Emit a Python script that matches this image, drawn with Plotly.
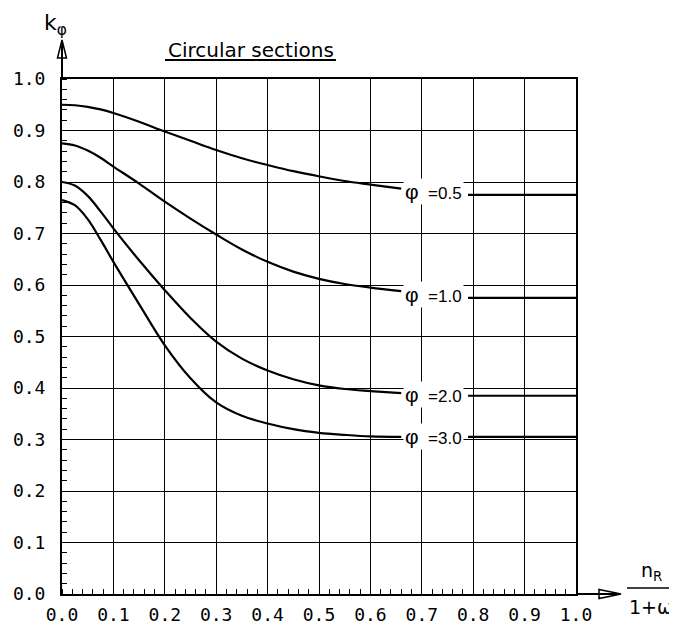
import plotly.graph_objects as go

# ---------------- data ----------------
tick_vals = [0.0, 0.1, 0.2, 0.3, 0.4, 0.5, 0.6, 0.7, 0.8, 0.9, 1.0]
tick_text = ["0.0", "0.1", "0.2", "0.3", "0.4", "0.5", "0.6", "0.7", "0.8", "0.9", "1.0"]

phi_names = ["0.5", "1.0", "2.0", "3.0"]

curve_x = [0.0, 0.025, 0.05, 0.075, 0.1, 0.15, 0.2, 0.25, 0.3, 0.35, 0.4, 0.45, 0.5, 0.55, 0.6, 0.66]
k_phi_05 = [0.950, 0.949, 0.946, 0.941, 0.934, 0.917, 0.898, 0.880, 0.862, 0.846, 0.833, 0.821, 0.811, 0.802, 0.795, 0.787]
k_phi_10 = [0.875, 0.871, 0.861, 0.847, 0.830, 0.797, 0.762, 0.729, 0.698, 0.669, 0.645, 0.626, 0.612, 0.602, 0.595, 0.588]
k_phi_20 = [0.800, 0.793, 0.773, 0.743, 0.710, 0.648, 0.590, 0.536, 0.490, 0.457, 0.434, 0.417, 0.405, 0.398, 0.394, 0.390]
k_phi_30 = [0.765, 0.755, 0.728, 0.688, 0.645, 0.563, 0.483, 0.419, 0.372, 0.346, 0.331, 0.320, 0.313, 0.309, 0.306, 0.305]

tail_x = [0.79, 1.0]
tail_05 = [0.775, 0.775]
tail_10 = [0.575, 0.575]
tail_20 = [0.385, 0.385]
tail_30 = [0.305, 0.305]

curves = [k_phi_05, k_phi_10, k_phi_20, k_phi_30]
tails = [tail_05, tail_10, tail_20, tail_30]

# ---------------- figure ----------------
# page-pixel frame of the plot area (the page body adds an 8 px offset)
OFF = 8
L, R, T, B = 62, 576, 79, 594
W, H = 677 - OFF, 628 - OFF


def px(x):
    return (x - L) / (R - L)


def py(y):
    return (B - y) / (B - T)


fig = go.Figure()
for ys, tl in zip(curves, tails):
    fig.add_trace(go.Scatter(x=curve_x, y=ys, mode="lines",
                             line=dict(color="black", width=2.2, shape="spline", smoothing=1.0),
                             showlegend=False, hoverinfo="skip"))
    fig.add_trace(go.Scatter(x=tail_x, y=tl, mode="lines",
                             line=dict(color="black", width=2.2),
                             showlegend=False, hoverinfo="skip"))

tick_font = dict(family="DejaVu Sans Mono", size=18, color="black")
axis_common = dict(range=[0, 1], tickvals=tick_vals, ticktext=tick_text, automargin=False,
                   showgrid=True, gridcolor="black", gridwidth=1.4,
                   zeroline=False, showline=True, linecolor="black", linewidth=2,
                   mirror=True, ticks="", tickfont=tick_font,
                   minor=dict(tickvals=[i / 50 for i in range(51)], ticks="inside", ticklen=5,
                              tickwidth=1.3, tickcolor="black", showgrid=False))

fig.update_xaxes(**axis_common, ticklabelstandoff=3)
fig.update_yaxes(**axis_common, ticklabelstandoff=11)

shapes = []
# y-axis arrow
shapes.append(dict(type="path", xref="paper", yref="paper",
                   path=f"M {px(62)},{py(40)} L {px(57.5)},{py(58)} L {px(66.5)},{py(58)} Z",
                   fillcolor="white", line=dict(color="black", width=1.5)))
shapes.append(dict(type="line", xref="paper", yref="paper",
                   x0=px(62), y0=py(79), x1=px(62), y1=py(42),
                   line=dict(color="black", width=2)))
# x-axis arrow
shapes.append(dict(type="path", xref="paper", yref="paper",
                   path=f"M {px(621)},{py(594)} L {px(599)},{py(589.5)} L {px(599)},{py(598.5)} Z",
                   fillcolor="white", line=dict(color="black", width=1.5)))
shapes.append(dict(type="line", xref="paper", yref="paper",
                   x0=px(576), y0=py(594), x1=px(619), y1=py(594),
                   line=dict(color="black", width=2)))
# title underline
shapes.append(dict(type="line", xref="paper", yref="paper",
                   x0=px(165), y0=py(60), x1=px(336), y1=py(60),
                   line=dict(color="black", width=1.8)))
# fraction line
shapes.append(dict(type="line", xref="paper", yref="paper",
                   x0=px(627), y0=py(588), x1=px(676), y1=py(588),
                   line=dict(color="black", width=1.5)))

annotations = []
annotations.append(dict(text="Circular sections", xref="paper", yref="paper",
                        x=px(166), y=py(50), xanchor="left", yanchor="middle",
                        showarrow=False, font=dict(family="DejaVu Sans", size=20, color="black")))
annotations.append(dict(text="k<sub>φ</sub>", xref="paper", yref="paper",
                        x=px(42), y=py(25), xanchor="left", yanchor="middle",
                        showarrow=False, font=dict(family="DejaVu Sans", size=22, color="black")))
annotations.append(dict(text="n<sub>R</sub>", xref="paper", yref="paper",
                        x=px(651), y=py(571), xanchor="center", yanchor="middle",
                        showarrow=False, font=dict(family="DejaVu Sans", size=19, color="black")))
annotations.append(dict(text="1+ω", xref="paper", yref="paper",
                        x=px(651), y=py(607), xanchor="center", yanchor="middle",
                        showarrow=False, font=dict(family="DejaVu Sans", size=19, color="black")))

for name, ys, tl in zip(phi_names, curves, tails):
    yl = (ys[-1] + tl[0]) / 2
    annotations.append(dict(text='<span style="font-size:21px">φ</span>\u00a0\u00a0=' + name,
                            xref="x", yref="y", x=curve_x[-1] + 0.004, y=yl,
                            xanchor="left", yanchor="middle", showarrow=False,
                            bgcolor="white", borderpad=1,
                            font=dict(family="Liberation Sans", size=17, color="black")))

fig.update_layout(width=W, height=H,
                  margin=dict(l=L - OFF, r=W - (R - OFF), t=T - OFF, b=H - (B - OFF)),
                  paper_bgcolor="white", plot_bgcolor="white",
                  shapes=shapes, annotations=annotations, showlegend=False)

fig.write_html("out.html")
